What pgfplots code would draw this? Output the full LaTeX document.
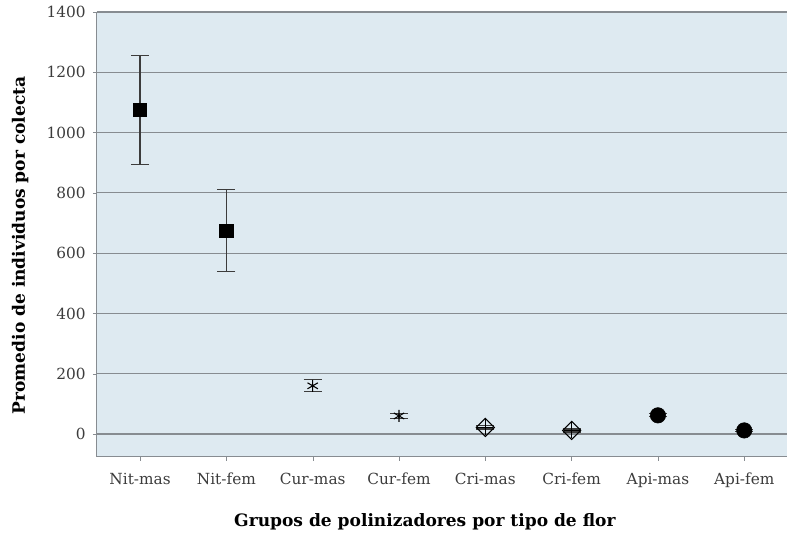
\documentclass[border=0pt]{standalone}
\usepackage{fontspec}
\setmainfont{DejaVu Serif}
\usepackage{pgfplots}
\pgfplotsset{compat=1.18}
\definecolor{bgblue}{RGB}{222,234,241}
\definecolor{gridgray}{RGB}{135,140,145}
\definecolor{ticktext}{RGB}{60,60,60}
\definecolor{errgray}{RGB}{60,60,60}
\begin{document}
\begin{tikzpicture}
\path (-72.75pt,-57.75pt) rectangle (518.25pt,342.75pt);
\begin{axis}[at={(0,0)}, anchor=south west, scale only axis,
  width=518.25pt, height=333.75pt,
  xmin=-0.5, xmax=7.5, ymin=-75, ymax=1400,
  xtick={0,...,7},
  xticklabels={Nit-mas,Nit-fem,Cur-mas,Cur-fem,Cri-mas,Cri-fem,Api-mas,Api-fem},
  ytick={0,200,...,1400},
  axis background/.style={fill=bgblue},
  ymajorgrids, grid style={gridgray, line width=0.9pt},
  axis x line*=bottom, axis y line*=left,
  axis line style={gridgray, line width=0.8pt},
  tick align=outside, major tick length=3pt, tick style={gridgray},
  tick label style={font=\fontsize{11.5}{13}\selectfont, text=ticktext},
  xticklabel style={yshift=-6pt},
  yticklabel style={xshift=-2pt},
  /pgf/number format/assume math mode=true,
  yticklabel style={/pgf/number format/1000 sep={}},
  xlabel={Grupos de polinizadores por tipo de flor},
  ylabel={Promedio de individuos por colecta},
  label style={font=\bfseries\fontsize{12.8}{14}\selectfont},
  xlabel style={at={(axis description cs:0.475,-0.146)}, anchor=center},
  ylabel style={at={(axis description cs:-0.111,0.475)}, anchor=center},
  clip=false,
  error bars/y dir=both, error bars/y explicit,
  error bars/error bar style={errgray, line width=0.9pt},
  error bars/error mark options={errgray, line width=0.9pt, mark size=6.75pt, rotate=90},
]
\addplot[only marks, mark=square*, mark size=5pt, black]
  coordinates {(0,1075) +- (0,180) (1,675) +- (0,137)};
\addplot[only marks, mark=asterisk, mark size=4.5pt, black, thick]
  coordinates {(2,160) +- (0,20) (3,60) +- (0,8)};
\addplot[only marks, mark=square, mark size=4.8pt, black, thick, mark options={rotate=45}]
  coordinates {(4,22) +- (0,5) (5,12) +- (0,5)};
\addplot[only marks, mark=+, mark size=6pt, black, thick, forget plot]
  coordinates {(4,22) (5,12)};
\addplot[only marks, mark=*, mark size=5.8pt, black]
  coordinates {(6,62) +- (0,5) (7,12) +- (0,4)};
\end{axis}
\end{tikzpicture}
\end{document}
